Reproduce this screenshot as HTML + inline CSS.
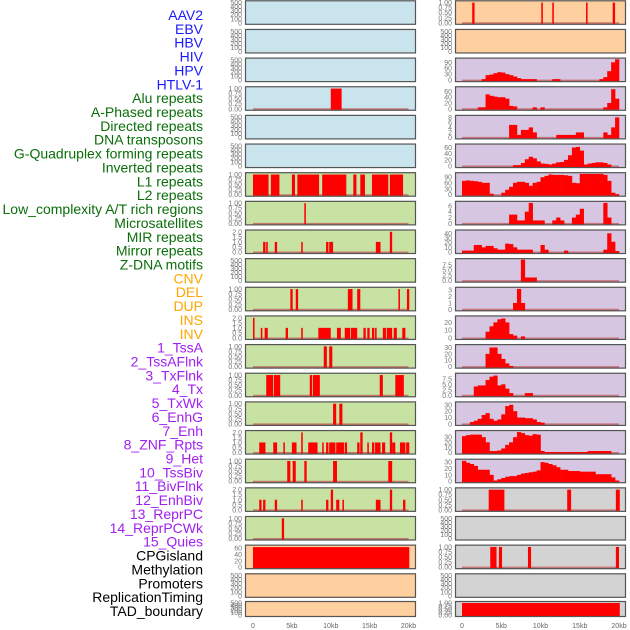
<!DOCTYPE html>
<html><head><meta charset="utf-8"><style>
html,body{margin:0;padding:0;background:#fff;width:630px;height:630px;overflow:hidden}
svg{display:block;font-family:"Liberation Sans",sans-serif}
</style></head><body>
<svg id="chart" width="630" height="630"></svg>
<script>
const labels=["AAV2","EBV","HBV","HIV","HPV","HTLV-1","Alu repeats","A-Phased repeats","Directed repeats","DNA transposons","G-Quadruplex forming repeats","Inverted repeats","L1 repeats","L2 repeats","Low_complexity A/T rich regions","Microsatellites","MIR repeats","Mirror repeats","Z-DNA motifs","CNV","DEL","DUP","INS","INV","1_TssA","2_TssAFlnk","3_TxFlnk","4_Tx","5_TxWk","6_EnhG","7_Enh","8_ZNF_Rpts","9_Het","10_TssBiv","11_BivFlnk","12_EnhBiv","13_ReprPC","14_ReprPCWk","15_Quies","CPGisland","Methylation","Promoters","ReplicationTiming","TAD_boundary"];
const labelGroups=[6,13,5,15,5];
const groupColors=["#1a1aff","#0a6e0a","#ffa500","#a020f0","#000000"];
const xTickLabels=["0","5kb","10kb","15kb","20kb"];
const xTickValues=[0,5,10,15,20];
const leftBg=["b","b","b","b","b","b","g","g","g","g","g","g","g","g","g","g","g","g","g","o","o","o"];
const leftMax=[520,520,520,1.04,520,520,1.04,1.04,2.08,520,1.04,2.08,1.04,1.04,1.04,2.08,1.04,2.08,1.04,66,520,520];
const leftTicks=[[0,100,200,300,400,500],[0,100,200,300,400,500],[0,100,200,300,400,500],[0,0.25,0.5,0.75,1],[0,100,200,300,400,500],[0,100,200,300,400,500],[0,0.25,0.5,0.75,1],[0,0.25,0.5,0.75,1],[0,0.5,1,1.5,2],[0,100,200,300,400,500],[0,0.25,0.5,0.75,1],[0,0.5,1,1.5,2],[0,0.25,0.5,0.75,1],[0,0.25,0.5,0.75,1],[0,0.25,0.5,0.75,1],[0,0.5,1,1.5,2],[0,0.25,0.5,0.75,1],[0,0.5,1,1.5,2],[0,0.25,0.5,0.75,1],[0,20,40,60],[0,100,200,300,400,500],[0,100,200,300,400,500]];
const leftSegs=[[],[],[],[[10,11.4,1]],[],[],
[[0,2,1],[2.3,3.4,1],[5,5.4,1],[5.7,8.5,1],[8.9,12,1],[12.9,13.3,1],[13.8,14.4,1],[15.3,17.4,1],[17.6,19.3,1]],
[[6.6,6.8,1]],
[[1.3,1.6,1],[1.7,1.9,1],[2.8,3.1,1],[6.2,6.4,1],[9.4,9.7,1],[9.8,10.3,1],[15.8,16.4,1],[17.6,17.9,2]],
[],
[[4.8,5.1,1],[5.5,5.8,1],[12.2,12.8,1],[13.4,13.8,1],[18.7,18.9,1],[19.8,20.1,1]],
[[0,0.2,2],[1,1.2,1],[1.5,1.9,1],[4.2,4.5,1],[6.2,6.4,1],[8.4,10,1],[10.8,11.3,1],[11.8,12.5,1],[12.6,13.4,1],[14.2,14.5,1],[14.7,15,1],[15.3,15.6,1],[15.7,15.9,1],[16.7,17.1,1],[17.2,17.9,1],[18.1,18.5,1],[19.2,19.6,1]],
[[9.1,9.5,1],[9.8,10.2,1]],
[[1.7,2.6,1],[2.7,3.5,1],[7.3,7.6,1],[7.7,8.6,1],[16.3,16.7,1],[18.3,19.4,1]],
[[10.3,10.7,1],[11.1,11.5,1]],
[[0.8,1.6,1],[2.6,3.1,1],[3.9,4.1,1],[5,5.6,1],[6.2,6.4,2],[7.1,8.3,1],[8.9,9.1,1],[9.4,9.7,1],[9.8,10.6,1],[10.7,11.7,1],[11.8,12.1,1],[13.4,13.7,1],[13.8,14.1,2],[14.7,14.9,1],[15.3,15.6,1],[15.7,16.4,1],[16.6,17,1],[17.6,17.9,2],[17.9,18.3,1],[18.9,19.6,1],[19.7,20.1,1]],
[[4.4,4.8,1],[5.1,5.5,1],[6.6,6.9,1],[10.3,10.8,1],[17.4,17.9,1]],
[[0.8,1.1,1],[1.3,1.6,1],[2.8,3.1,1],[6.2,6.4,1],[9.4,9.7,1],[10,10.3,2],[10.7,11.1,1],[11.5,11.7,1],[15.8,16.4,1],[17.6,17.9,2],[19.3,19.6,1]],
[[3.7,4,1]],
[[0,20.1,63]],[],[]];
const rightBg=["o","o","p","p","p","p","p","p","p","p","p","p","p","p","p","p","p","y","y","y","y","y"];
const rightMax=[1.04,520,106,73,8.4,68,106,7.2,45,10,3.3,27,33,9.6,33,41,33,1.04,520,1.04,520,1.04];
const rightTicks=[[0,0.25,0.5,0.75,1],[0,100,200,300,400,500],[0,30,60,90],[0,20,40,60],[0,2,4,6,8],[0,20,40,60],[0,30,60,90],[0,2,4,6],[0,10,20,30,40],[0,2.5,5,7.5],[0,1,2,3],[0,10,20],[0,10,20,30],[0,2.5,5,7.5],[0,10,20,30],[0,10,20,30],[0,10,20,30],[0,0.25,0.5,0.75,1],[0,100,200,300,400,500],[0,0.25,0.5,0.75,1],[0,100,200,300,400,500],[0,0.25,0.5,0.75,1]];
const rightSegs=[[[1.3,1.6,1],[10.1,10.3,1],[11.5,11.7,1],[15.8,16,1],[19.2,19.5,1]],[],
null,null,null,null,null,null,null,null,null,null,null,null,null,null,null,
[[3.4,5.4,1],[13.4,13.9,1],[19.6,20.1,1]],[],
[[3.6,4.4,1],[4.7,5.1,1],[8.4,8.8,1],[19.6,20,1]],[],
[[0,20.1,1]]];
const binsR3=[0,0,0,0,0,5,25,28,35,40,38,30,25,18,10,5,5,5,5,0,0,0,0,5,5,0,0,0,0,0,0,0,0,0,0,5,15,45,90,105];
const binsR4=[0,0,0,0,5,5,50,45,42,40,40,35,10,8,0,0,0,0,5,0,5,0,0,0,0,0,0,0,0,0,0,0,0,0,0,0,5,20,68,35];
const binsR5=[0,0,0,0,0,0,0,0,0,0,0,0,5,5,1,3,3,4,2,0,0,0,0,0,1,1,1,1,1,2,2,0,0,0,0,0,2,1,4,8];
const binsR6=[0,0,0,0,0,0,0,0,0,0,0,0,0,3,3,10,22,30,25,15,8,7,5,8,12,13,20,35,60,62,50,5,8,10,12,12,10,5,0,0];
const binsR7=[70,72,70,68,65,60,60,5,0,0,10,25,40,60,65,65,60,45,60,65,88,95,102,100,100,100,98,95,60,58,105,105,105,105,105,105,100,70,10,3];
const binsR8=[0,0,0,0,0,0,0,0,0,0,0,0,3,3,1,1,4,7,1,1,1,0,0,1,2,1,0,0,2,3,5,0,0,0,0,0,7,2,0,0];
const binsR9=[3,3,3,15,15,10,13,13,8,5,5,18,17,10,5,5,5,5,0,0,15,5,0,0,0,0,3,0,0,0,0,0,0,0,0,0,5,40,22,2];
const binsR10=[0,0,0,0,0,0,0,0,0,0,0,0,0,0,0,10,1.5,1.5,1.5,0,0,0,0,0,0,0,0,0,0,0,0,0,0,0,0,0,0,0,0,0];
const binsR11=[0,0,0,0,0,0,0,0,0,0,0,0,0,1,3.2,1,0,0,0,0,0,0,0,0,0,0,0,0,0,0,0,0,0,0,0,0,0,0,0,0];
const binsR12=[0,0,0,0,0,0,8,15,20,24,25,20,5,3,0,2,0,0,0,0,0,0,0,0,0,0,0,0,0,0,0,0,0,0,0,0,0,0,0,0];
const binsR13=[0,0,0,0,0,0,20,30,30,20,12,5,1,0,0,0,0,0,0,0,0,0,0,0,0,0,0,0,0,0,0,0,0,0,0,0,0,0,0,0];
const binsR14=[0,0,0,4,4.5,4.5,7,8.5,9,4.5,5,3,1,0,0,0,1,1,0,0,0,0,0,0,0,0,0,0,0,0,0,0,0,0,0,0,0,0,0,0];
const binsR15=[0,0,3,5,8,14,17,8,5,7,15,28,30,20,10,10,9,9,7,3,2,0,0,0,0,0,0,0,0,0,0,0,0,0,0,0,0,0,0,0];
const binsR16=[32,34,35,35,35,30,20,3,3,4,8,15,20,30,40,38,34,33,36,35,3,1,1,1,1,1,1,1,1,1,1,1,3,3,3,3,3,3,0,0];
const binsR17=[32,29,27,24,18,18,18,10,1,3,5,7,8,8,10,12,13,14,15,17,30,29,27,25,22,18,18,16,16,16,15,15,15,15,11,11,11,11,6,1];
const rightBins=[null,null,binsR3,binsR4,binsR5,binsR6,binsR7,binsR8,binsR9,binsR10,binsR11,binsR12,binsR13,binsR14,binsR15,binsR16,binsR17,null,null,null,null,null];

const bgColors={b:"#c9e4ec",g:"#c8e2a4",o:"#fecf9f",p:"#d6c6e2",y:"#d3d3d3"};
const NS="http://www.w3.org/2000/svg";
const svg=document.getElementById("chart");
function mk(tag,attrs,parent){const e=document.createElementNS(NS,tag);for(const k in attrs)e.setAttribute(k,attrs[k]);(parent||svg).appendChild(e);return e;}
const cols=[{px:245,pw:171,x0:253,x1:408.5},{px:455,pw:171,x0:462,x1:619}];
function xScale(c,kb){return cols[c].x0+kb/20*(cols[c].x1-cols[c].x0);}
function rowTop(i){return i<21?0.3+i*28.65:601;}
function rowH(i){return i<21?24.5:16;}
function yScale(i,v,max){const T=rowTop(i),H=rowH(i);return (T+H-2)-v/max*(H-3.5);}

let li=0;
labelGroups.forEach((n,g)=>{for(let k=0;k<n;k++){
  const t=mk("text",{x:203,y:15+li*13.86+5,"text-anchor":"end","font-size":"14",fill:groupColors[g]});
  t.textContent=labels[li];
  
  
  li++;}});

function fmt(v,ticks){const dec=ticks.some(t=>t%1!==0);if(!dec)return String(v);
  const s=ticks.some(t=>Math.round(t*100)%10!==0)?2:1;return v.toFixed(s);}

function drawPanel(c,i,bg,max,ticks,segs,bins){
  const g=mk("g",{});
  
  
  const T=rowTop(i),H=rowH(i),P=cols[c];
  const r=mk("rect",{x:P.px,y:T,width:P.pw,height:H,fill:bgColors[bg],stroke:"none"},g);
  
  
  const hasData=(segs&&segs.length)||bins;
  if(hasData){
    const bl=mk("line",{x1:xScale(c,0),x2:xScale(c,20),y1:yScale(i,0,max)+0.5,y2:yScale(i,0,max)+0.5,stroke:"#c05050","stroke-width":2,opacity:0.7},g);
    
    
  }
  if(segs)segs.forEach(s=>{
    const x=xScale(c,s[0]),w=Math.max(1.5,xScale(c,s[1])-x),y=yScale(i,s[2],max);
    const b=mk("rect",{x:x,y:y,width:w,height:yScale(i,0,max)-y+1,fill:"#ff0000"},g);
    
    
  });
  if(bins)bins.forEach((v,k)=>{
    if(!v)return;
    const x=xScale(c,k*0.5),w=xScale(c,(k+1)*0.5)-x,y=yScale(i,v,max);
    const b=mk("rect",{x:x,y:y,width:w+0.3,height:yScale(i,0,max)-y+1,fill:"#ff0000"},g);
    
    
  });
  const fr=mk("rect",{x:P.px+0.5,y:T+0.5,width:P.pw-1,height:H-1,fill:"none",stroke:"#555","stroke-width":1.2},g);
  
  
  ticks.forEach(t=>{
    const tt=mk("text",{x:P.px-3,y:yScale(i,t,max)+2.5,"text-anchor":"end","font-size":"7",fill:"#777"},g);
    tt.textContent=fmt(t,ticks);
    
    
  });
}
for(let i=0;i<22;i++){
  drawPanel(0,i,leftBg[i],leftMax[i],leftTicks[i],leftSegs[i],null);
  drawPanel(1,i,rightBg[i],rightMax[i],rightTicks[i],rightSegs[i],rightBins[i]);
}
[0,1].forEach(c=>{xTickValues.forEach((v,k)=>{
  const t=mk("text",{x:xScale(c,v),y:628,"text-anchor":"middle","font-size":"7",fill:"#666"});
  t.textContent=xTickLabels[k];
  
  
});});
</script>
</body></html>
